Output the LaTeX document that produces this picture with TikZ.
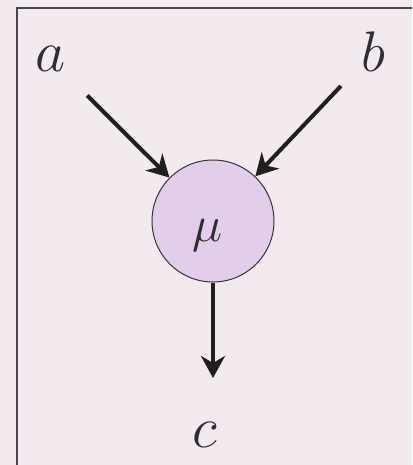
\documentclass[tikz,border=0pt]{standalone}
\usepackage{graphicx}
\usetikzlibrary{arrows.meta}
\definecolor{bgpink}{RGB}{243,234,240}
\definecolor{circfill}{RGB}{226,206,234}
\definecolor{framecol}{RGB}{70,70,75}
\definecolor{txtcol}{RGB}{45,45,50}
\newcommand{\biglbl}[2]{\scalebox{#1}{\Huge$#2$}}
\tikzset{
  lbl/.style={inner sep=0pt, anchor=base, text=txtcol},
  arr/.style={line width=4pt, draw=black!88, -{Stealth[length=22pt,width=24pt,inset=7pt]}},
  opnode/.style={circle, draw=black!80, line width=1pt, fill=circfill, minimum size=122pt, inner sep=0pt}
}
\begin{document}
\begin{tikzpicture}[x=1pt,y=-1pt]
\useasboundingbox (0,0) rectangle (412,465);
\fill[bgpink] (0,0) rectangle (412,465);
\begin{scope}
\clip (0,0) rectangle (412,465);
\draw[framecol, line width=2pt] (17,480) -- (17,8) -- (430,8);
\end{scope}
\node[lbl] (a) at (51,72) {\biglbl{2.35}{a}};
\node[lbl] (b) at (373,72) {\biglbl{2.3}{b}};
\node[opnode] (mu) at (213,221) {};
\node[lbl] (mut) at (208,241) {\biglbl{2.05}{\mu}};
\node[lbl] (c) at (205,447) {\biglbl{2.35}{c}};
\coordinate (cend) at (213,378);
\draw[arr, shorten <=33pt] (a) -- (mu);
\draw[arr, shorten <=29pt] (b) -- (mu);
\draw[arr] (mu) -- (cend);
\end{tikzpicture}
\end{document}
